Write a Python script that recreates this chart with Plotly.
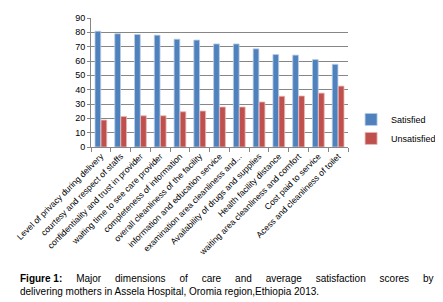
import plotly.graph_objects as go

categories = [
    "Level of privacy during delivery",
    "courtesy and respect of staffs",
    "confidentiality and trust in provider",
    "waiting time to see care provider",
    "completeness of information",
    "overall cleanliness of the facility",
    "information and education service",
    "examination area cleanliness and...",
    "Availability of drugs and supplies",
    "Health facility distance",
    "waiting area cleanliness and comfort",
    "Cost paid to service",
    "Acess and cleanliness of toilet",
]
satisfied = [80.8, 79.0, 78.5, 78.0, 75.2, 74.6, 71.9, 71.9, 68.5, 64.5, 64.1, 61.0, 57.7]
unsatisfied = [18.8, 21.3, 21.8, 21.8, 24.6, 25.1, 27.9, 27.9, 31.4, 35.4, 35.6, 37.6, 42.5]
y_ticks = [0, 10, 20, 30, 40, 50, 60, 70, 80, 90]

caption_line1 = "Major dimensions of care and average satisfaction scores by"
caption_line2 = "delivering mothers in Assela Hospital, Oromia region,Ethiopia 2013."

fig = go.Figure()
fig.add_trace(go.Bar(x=categories, y=satisfied, name="Satisfied",
                     marker=dict(color="#4F81BD", line=dict(color="#B9CDE5", width=0.8))))
fig.add_trace(go.Bar(x=categories, y=unsatisfied, name="Unsatisfied",
                     marker=dict(color="#C0504D", line=dict(color="#E6B9B8", width=0.8))))

fig.update_layout(
    width=443, height=302,
    margin=dict(l=83, r=82, t=10, b=163),
    paper_bgcolor="white", plot_bgcolor="white",
    barmode="group", bargap=0.39, bargroupgap=0.05,
    font=dict(family="Liberation Sans, Arial", size=8, color="#000000"),
    legend=dict(x=1.012, y=0.14, xanchor="left", yanchor="middle",
                font=dict(size=9, family="Liberation Sans, Arial"),
                bgcolor="rgba(0,0,0,0)", tracegroupgap=2, itemwidth=30),
    showlegend=True,
)
fig.update_xaxes(
    tickangle=-45, tickfont=dict(size=8.6),
    showline=True, linecolor="#868686", linewidth=1,
    ticks="outside", ticklen=4, tickcolor="#868686", tickson="boundaries",
    showgrid=False, automargin=False,
)
fig.update_yaxes(
    range=[0, 90], tickvals=y_ticks, tickfont=dict(size=9),
    showline=True, linecolor="#868686", linewidth=1,
    ticks="outside", ticklen=3, tickcolor="#868686",
    showgrid=True, gridcolor="#868686", gridwidth=1,
    automargin=False, zeroline=False,
)

gap = " " + "\u00a0" * 4
line1 = gap.join(caption_line1.split(" "))
fig.add_annotation(
    xref="paper", yref="paper", x=(5 - 83) / 278, y=-(264 - 139) / 129,
    xanchor="left", yanchor="top",
    text="<b>Figure\u00a01:</b>" + gap + line1 + "<br>" + caption_line2,
    showarrow=False, align="left", borderpad=0,
    font=dict(family="Liberation Sans, Arial", size=10, color="#000000"),
)

fig.write_html("out.html")
